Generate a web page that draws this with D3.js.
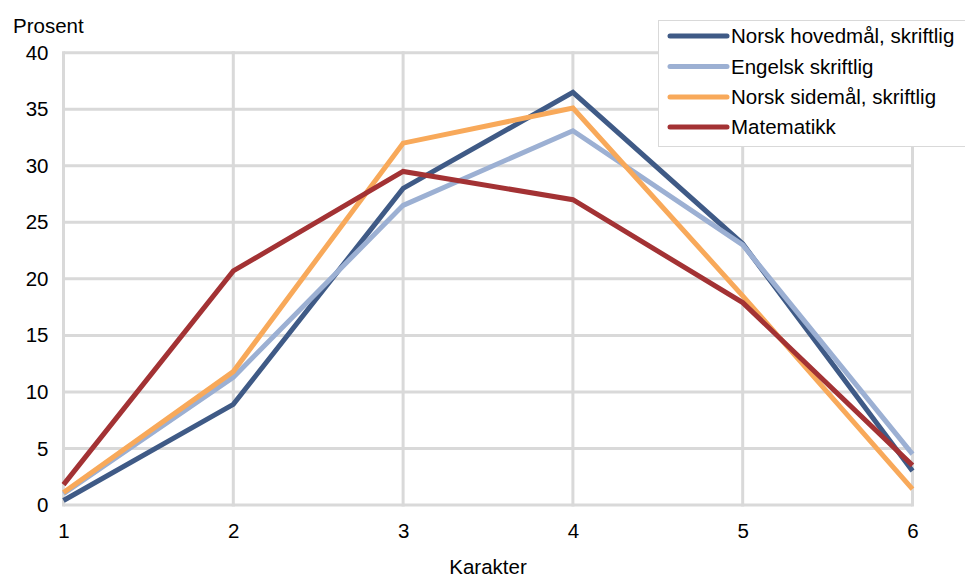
<!DOCTYPE html>
<html><head><meta charset="utf-8">
<script src="https://cdn.jsdelivr.net/npm/d3@7"></script>
<style>body{margin:0;background:#fff}svg{display:block}text{font-family:"Liberation Sans",Arial,sans-serif;fill:#000}</style>
</head><body><svg id="c" width="965" height="577"></svg>
<script>
const categories = [1, 2, 3, 4, 5, 6];
const yTicks = [0, 5, 10, 15, 20, 25, 30, 35, 40];
const seriesNames = ["Norsk hovedmål, skriftlig", "Engelsk skriftlig", "Norsk sidemål, skriftlig", "Matematikk"];
const seriesColors = ["#3f5a86", "#9cb0d3", "#f8a95a", "#a33234"];
const norskHoved = [0.4, 8.9, 28.0, 36.5, 23.1, 3.0];
const engelsk = [1.0, 11.3, 26.5, 33.1, 23.0, 4.5];
const norskSide = [1.1, 11.8, 32.0, 35.1, 18.5, 1.4];
const matematikk = [1.8, 20.7, 29.5, 27.0, 17.9, 3.5];
const seriesValues = [norskHoved, engelsk, norskSide, matematikk];

const FS = "20.5px";
const svg = d3.select("#c");
const x = d3.scaleLinear().domain([1, 6]).range([63.5, 912.5]);
const y = d3.scaleLinear().domain([0, 40]).range([505, 52.7]);
const grid = "#d9d9d9";

svg.append("g").selectAll("line").data(yTicks).join("line")
  .attr("x1", x(1)).attr("x2", x(6)).attr("y1", d => y(d)).attr("y2", d => y(d))
  .attr("stroke", grid).attr("stroke-width", 3);
svg.append("g").selectAll("line").data(categories).join("line")
  .attr("x1", d => x(d)).attr("x2", d => x(d)).attr("y1", y(0) + 1.5).attr("y2", y(40) - 1.5)
  .attr("stroke", grid).attr("stroke-width", 3);

const yAxis = d3.axisLeft(y).tickValues(yTicks).tickSize(0).tickPadding(15);
const ya = svg.append("g").attr("transform", `translate(${x(1)},0)`).call(yAxis);
ya.select(".domain").remove();
ya.selectAll("text").style("font-size", FS).style("font-family", '"Liberation Sans",Arial,sans-serif').attr("fill", "#000");

const xAxis = d3.axisBottom(x).tickValues(categories).tickFormat(d3.format("d")).tickSize(0).tickPadding(18);
const xa = svg.append("g").attr("transform", `translate(0,${y(0)})`).call(xAxis);
xa.select(".domain").remove();
xa.selectAll("text").style("font-size", FS).style("font-family", '"Liberation Sans",Arial,sans-serif').attr("fill", "#000");

svg.append("text").attr("x", 13).attr("y", 33).style("font-size", FS).text("Prosent");
svg.append("text").attr("x", 488).attr("y", 574).attr("text-anchor", "middle").style("font-size", FS).text("Karakter");

const line = d3.line().x((d, i) => x(categories[i])).y(d => y(d));
svg.append("g").selectAll("path").data(seriesValues).join("path")
  .attr("d", d => line(d)).attr("fill", "none")
  .attr("stroke", (d, i) => seriesColors[i]).attr("stroke-width", 5)
  .attr("stroke-linejoin", "miter");

const lg = svg.append("g");
lg.append("rect").attr("x", 658.5).attr("y", 20.5).attr("width", 320).attr("height", 126)
  .attr("fill", "#fff").attr("stroke", grid).attr("stroke-width", 1);
const rowY = [36, 66.5, 97, 127];
seriesNames.forEach((n, i) => {
  lg.append("line").attr("x1", 670).attr("x2", 727).attr("y1", rowY[i]).attr("y2", rowY[i])
    .attr("stroke", seriesColors[i]).attr("stroke-width", 5).attr("stroke-linecap", "round");
  lg.append("text").attr("x", 731).attr("y", rowY[i]).attr("dy", "0.35em").style("font-size", FS).text(n);
});
</script></body></html>
